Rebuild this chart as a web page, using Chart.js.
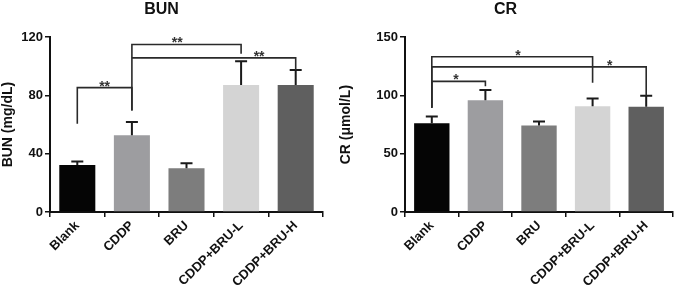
<!DOCTYPE html>
<html>
<head>
<meta charset="utf-8">
<script src="https://cdn.jsdelivr.net/npm/chart.js@4"></script>
<style>
  body { margin: 0; background: #fff; }
  .wrap { display: flex; width: 675px; height: 292px; }
  .box { position: relative; height: 292px; }
</style>
</head>
<body>
<div class="wrap">
  <div class="box" style="width:338px"><canvas id="bunChart"></canvas></div>
  <div class="box" style="width:337px"><canvas id="crChart"></canvas></div>
</div>
<script>
const groups = ["Blank", "CDDP", "BRU", "CDDP+BRU-L", "CDDP+BRU-H"];
const barColors = ["#050505", "#9d9da0", "#7d7d7d", "#d4d4d4", "#5f5f5f"];

const bunMean = [32.3, 52.7, 30.0, 87.2, 87.2];
const bunErr = [2.3, 9.0, 3.4, 16.3, 10.2];
const bunTicks = [0, 40, 80, 120];
// [from, to, bracket height, left leg end, right leg end, label, label position]
const bunSig = [
  [0, 1, 85.4, 60.5, 69.6, "**", 0.5],
  [1, 3, 115, 69.6, 108.7, "**", 1.83],
  [1, 4, 105.8, 105.8, 97.4, "**", 3.33],
];

const crMean = [76.2, 95.9, 74.3, 90.8, 90.3];
const crErr = [5.7, 8.7, 3.3, 6.5, 9.5];
const crTicks = [0, 50, 100, 150];
const crSig = [
  [0, 1, 112.1, 89.4, 107.9, "*", 0.45],
  [0, 3, 133.2, 89.4, 111, "*", 1.61],
  [0, 4, 124.5, 89.4, 99.8, "*", 3.32],
];

const FONT = "'Liberation Sans', Arial, sans-serif";

// error bars + significance brackets
const extras = {
  id: "extras",
  afterDatasetsDraw(chart, args, opts) {
    const ctx = chart.ctx;
    const x = chart.scales.x, y = chart.scales.y;
    const meta = chart.getDatasetMeta(0);
    ctx.save();
    ctx.strokeStyle = "#1a1a1a";
    ctx.lineWidth = 2;
    opts.err.forEach((e, i) => {
      const cx = meta.data[i].x;
      const top = y.getPixelForValue(opts.mean[i] + e);
      ctx.beginPath();
      ctx.moveTo(cx, y.getPixelForValue(opts.mean[i]));
      ctx.lineTo(cx, top);
      ctx.moveTo(cx - 6, top);
      ctx.lineTo(cx + 6, top);
      ctx.stroke();
    });
    ctx.strokeStyle = "#2a2a2a";
    ctx.lineWidth = 1.6;
    ctx.fillStyle = "#333";
    ctx.font = "bold 14px " + FONT;
    ctx.textAlign = "center";
    ctx.textBaseline = "alphabetic";
    opts.sig.forEach(s => {
      const x1 = x.getPixelForValue(s[0]), x2 = x.getPixelForValue(s[1]);
      const yy = y.getPixelForValue(s[2]);
      ctx.beginPath();
      ctx.moveTo(x1, y.getPixelForValue(s[3]));
      ctx.lineTo(x1, yy);
      ctx.lineTo(x2, yy);
      ctx.lineTo(x2, y.getPixelForValue(s[4]));
      ctx.stroke();
      ctx.fillText(s[5], x.getPixelForValue(s[6]), yy + 3);
    });
    ctx.restore();
  },
};

function makeChart(id, title, yTitle, mean, err, ticks, sig, yAxisW, rightPad) {
  return new Chart(document.getElementById(id), {
    type: "bar",
    data: {
      labels: groups,
      datasets: [{
        data: mean,
        backgroundColor: barColors,
        categoryPercentage: 1,
        barPercentage: 0.66,
      }],
    },
    plugins: [extras],
    options: {
      responsive: true,
      maintainAspectRatio: false,
      animation: false,
      layout: { padding: { left: 0, right: rightPad, top: 0, bottom: 0 } },
      plugins: {
        legend: { display: false },
        tooltip: { enabled: false },
        title: {
          display: true,
          text: title,
          color: "#111",
          font: { family: FONT, size: 16, weight: "bold" },
          padding: { top: 0, bottom: 18 },
        },
        extras: { mean: mean, err: err, sig: sig },
      },
      scales: {
        x: {
          afterFit(scale) { scale.height = 80; },
          grid: { display: true, drawOnChartArea: false, drawTicks: true, tickLength: 5, color: "#111", lineWidth: 1.5 },
          border: { color: "#111", width: 2 },
          ticks: {
            color: "#111",
            maxRotation: 45,
            minRotation: 45,
            padding: 1,
            font: { family: FONT, size: 13, weight: "bold" },
          },
        },
        y: {
          min: ticks[0],
          max: ticks[ticks.length - 1],
          afterFit(scale) { scale.width = yAxisW; },
          afterBuildTicks(scale) { scale.ticks = ticks.map(v => ({ value: v })); },
          grid: { display: true, drawOnChartArea: false, drawTicks: true, tickLength: 5, color: "#111", lineWidth: 1.5 },
          border: { color: "#111", width: 2 },
          ticks: {
            color: "#111",
            padding: 2,
            font: { family: FONT, size: 13, weight: "bold" },
          },
          title: {
            display: true,
            text: yTitle,
            color: "#111",
            padding: 0,
            font: { family: FONT, size: 14, weight: "bold" },
          },
        },
      },
    },
  });
}

makeChart("bunChart", "BUN", "BUN (mg/dL)", bunMean, bunErr, bunTicks, bunSig, 50, 15);
makeChart("crChart", "CR", "CR (μmol/L)", crMean, crErr, crTicks, crSig, 67, 2);
</script>
</body>
</html>
